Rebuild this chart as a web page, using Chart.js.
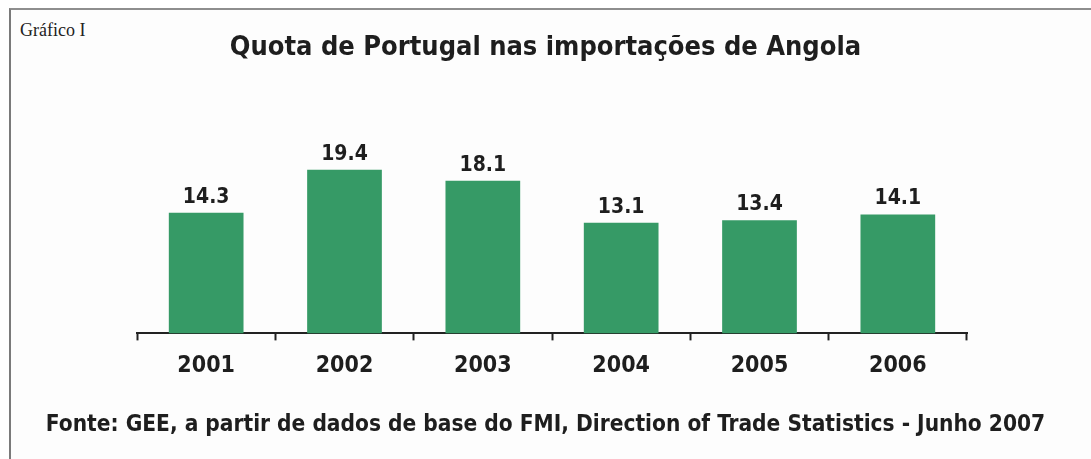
<!DOCTYPE html>
<html>
<head>
<meta charset="utf-8">
<script src="https://cdn.jsdelivr.net/npm/chart.js@4.4.0/dist/chart.umd.min.js"></script>
<style>
  html, body { margin: 0; padding: 0; background: #ffffff; }
  #wrap { position: relative; width: 1091px; height: 459px; overflow: hidden; }
  #frame {
    position: absolute; left: 9px; top: 8px; right: -10px; bottom: -10px;
    border-top: 2px solid #8e8e8e; border-left: 2px solid #7a7a7a;
    background: #fdfdfd;
  }
  #label {
    position: absolute; left: 20px; top: 20px; line-height: 1;
    font: 18px "Liberation Serif", serif; color: #222;
  }
  canvas { position: absolute; left: 0; top: 0; }
</style>
</head>
<body>
<div id="wrap">
  <div id="frame"></div>
  <div id="label">Gráfico I</div>
  <canvas id="quotaChart" width="1091" height="459"></canvas>
</div>
<script>
const years = ['2001', '2002', '2003', '2004', '2005', '2006'];
const quota = [14.3, 19.4, 18.1, 13.1, 13.4, 14.1];

const chartTitle = 'Quota de Portugal nas importações de Angola';
const sourceNote = 'Fonte: GEE, a partir de dados de base do FMI, Direction of Trade Statistics - Junho 2007';

const heavy = "'DejaVu Sans Condensed', 'DejaVu Sans', sans-serif";
const ink = '#1e1e1e';

// values written above each bar
const valueLabels = {
  id: 'valueLabels',
  afterDatasetsDraw(chart) {
    const ctx = chart.ctx;
    const meta = chart.getDatasetMeta(0);
    ctx.save();
    ctx.font = 'bold 21px ' + heavy;
    ctx.fillStyle = ink;
    ctx.textAlign = 'center';
    ctx.textBaseline = 'alphabetic';
    meta.data.forEach((bar, i) => {
      ctx.fillText(quota[i].toFixed(1), bar.x, bar.y - 10);
    });
    ctx.restore();
  }
};

// empty side axes keep the plot narrow while title/source use full width
const spacer = (w, pos) => ({
  display: true,
  position: pos,
  grid: { display: false },
  border: { display: false },
  ticks: { display: false },
  afterFit: s => { s.width = w; }
});

new Chart(document.getElementById('quotaChart'), {
  type: 'bar',
  data: {
    labels: years,
    datasets: [{
      data: quota,
      backgroundColor: '#369a66',
      barPercentage: 0.54,
      categoryPercentage: 1
    }]
  },
  options: {
    responsive: false,
    animation: false,
    layout: { padding: 0 },
    plugins: {
      legend: { display: false },
      tooltip: { enabled: false },
      title: {
        display: true,
        text: chartTitle,
        color: ink,
        font: { family: heavy, size: 27, weight: 'bold' },
        padding: { top: 32, bottom: 58 }
      },
      subtitle: {
        display: true,
        position: 'bottom',
        text: sourceNote,
        color: ink,
        font: { family: heavy, size: 22.5, weight: 'bold' },
        padding: { top: 20, bottom: 20 }
      }
    },
    scales: {
      x: {
        offset: true,
        border: { display: true, color: '#222', width: 2 },
        grid: {
          display: true,
          offset: true,
          drawOnChartArea: false,
          drawTicks: true,
          tickLength: 7,
          tickWidth: 2,
          tickColor: '#222'
        },
        ticks: {
          color: ink,
          padding: 12,
          font: { family: heavy, size: 23, weight: 'bold' }
        }
      },
      y: Object.assign(spacer(137, 'left'), { min: 0, max: 25 }),
      yRight: Object.assign(spacer(124, 'right'), { min: 0, max: 25 })
    }
  },
  plugins: [valueLabels]
});
</script>
</body>
</html>
